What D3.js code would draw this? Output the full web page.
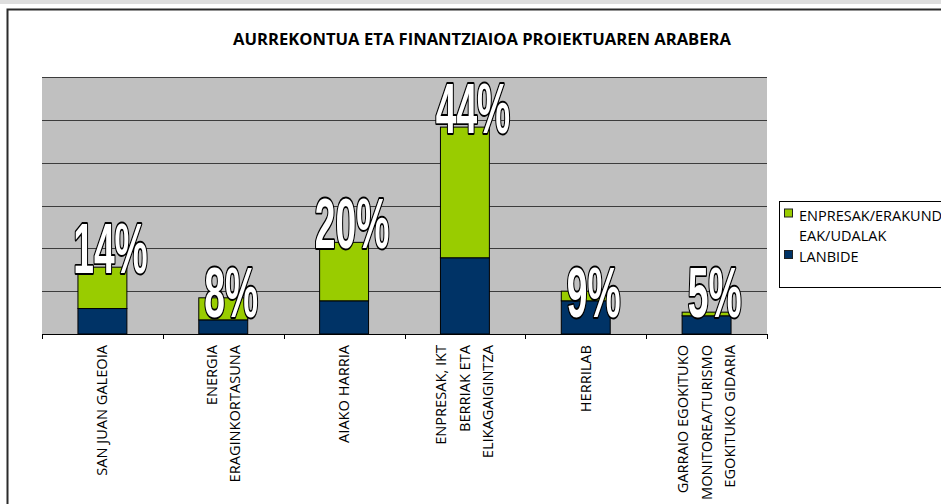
<!doctype html>
<html>
  <head>
    <script src="https://cdn.jsdelivr.net/npm/d3@7"></script>
    <style>
      body { margin: 0; background: #fff; }
      svg { display: block; }
    </style>
  </head>
  <body>
    <svg id="chart" width="941" height="504"></svg>

    <script>
      // projects (line breaks as they appear under the axis)
      var categories = [
        "SAN JUAN GALEOIA",
        "ENERGIA\nERAGINKORTASUNA",
        "AIAKO HARRIA",
        "ENPRESAK, IKT\nBERRIAK ETA\nELIKAGAIGINTZA",
        "HERRILAB",
        "GARRAIO EGOKITUKO\nMONITOREA/TURISMO\nEGOKITUKO GIDARIA"
      ];
      // budget, thousands of euros
      var lanbide = [119, 66, 155, 356, 155, 85];
      var enpresak = [193, 103, 273, 610, 45, 17];
      var seriesNames = ["LANBIDE", "ENPRESAK/ERAKUNDEAK/UDALAK"];
      var legendLines = [["ENPRESAK/ERAKUND", "EAK/UDALAK"], ["LANBIDE"]];
      var yTicks = [0, 200, 400, 600, 800, 1000, 1200];

      var colors = { "LANBIDE": "#003366", "ENPRESAK/ERAKUNDEAK/UDALAK": "#99cc00" };

      var svg = d3.select("#chart");

      // grey strip + frame of the embedded chart
      svg.append("rect").attr("x", 0).attr("y", 0).attr("width", 941).attr("height", 4).attr("fill", "#dedede");
      svg.append("path")
        .attr("d", "M7.5,504 V9.5 H945")
        .attr("fill", "none").attr("stroke", "#2b2b2b").attr("stroke-width", 2);

      svg.append("text")
        .attr("x", 482).attr("y", 45)
        .attr("text-anchor", "middle")
        .attr("font-family", "'Open Sans', sans-serif")
        .attr("font-weight", "bold")
        .attr("font-size", 16.6)
        .attr("fill", "#000")
        .text("AURREKONTUA ETA FINANTZIAIOA PROIEKTUAREN ARABERA");

      var pLeft = 42, pRight = 767, pTop = 77, pBottom = 334;

      var x = d3.scaleBand().domain(categories).range([pLeft, pRight]).padding(0);
      var y = d3.scaleLinear().domain([0, 1200]).range([pBottom, pTop]);

      // plot area
      svg.append("rect")
        .attr("x", pLeft).attr("y", pTop)
        .attr("width", pRight - pLeft).attr("height", pBottom - pTop)
        .attr("fill", "#c0c0c0");

      svg.append("g").selectAll("line")
        .data(yTicks.slice(1))
        .enter()
        .append("line")
        .attr("x1", pLeft).attr("x2", pRight)
        .attr("y1", d => Math.round(y(d)) + 0.5).attr("y2", d => Math.round(y(d)) + 0.5)
        .attr("stroke", "#3c3c3c").attr("stroke-width", 1.2);

      // stacked bars
      var rows = categories.map((c, i) => ({ cat: c, "LANBIDE": lanbide[i], "ENPRESAK/ERAKUNDEAK/UDALAK": enpresak[i] }));
      var stacked = d3.stack().keys(seriesNames)(rows);
      var barW = x.bandwidth() * 0.405;

      svg.append("g").selectAll("g")
        .data(stacked)
        .enter()
        .append("g")
        .attr("fill", d => colors[d.key])
        .selectAll("rect")
        .data(d => d)
        .enter()
        .append("rect")
        .attr("x", d => x(d.data.cat) + x.bandwidth() / 2 - barW / 2)
        .attr("y", d => y(d[1]))
        .attr("width", barW)
        .attr("height", d => y(d[0]) - y(d[1]))
        .attr("stroke", "#000")
        .attr("stroke-width", 1);

      // x axis
      var axis = d3.axisBottom(x).tickSize(0).tickFormat("");
      var ax = svg.append("g").attr("transform", "translate(0," + pBottom + ")").call(axis);
      ax.select(".domain").attr("stroke", "#000").attr("d", "M" + pLeft + ",0.5H" + pRight);
      ax.selectAll(".bound")
        .data(d3.range(categories.length + 1))
        .enter()
        .append("line")
        .attr("x1", i => Math.round(pLeft + i * x.step()) + 0.5)
        .attr("x2", i => Math.round(pLeft + i * x.step()) + 0.5)
        .attr("y1", 0).attr("y2", 5)
        .attr("stroke", "#000");

      var labels = svg.append("g").selectAll("g")
        .data(categories)
        .enter()
        .append("g")
        .attr("transform", d => "translate(" + (x(d) + x.bandwidth() / 2) + ",345) rotate(-90)");
      labels.append("text")
        .attr("text-anchor", "end")
        .attr("font-family", "'Open Sans', sans-serif")
        .attr("font-size", 14.6)
        .attr("fill", "#000")
        .each(function(d) {
          var lines = d.split("\n");
          var t = d3.select(this);
          lines.forEach((ln, i) => {
            t.append("tspan")
              .attr("x", 0)
              .attr("y", (i - (lines.length - 1) / 2) * 23.5 + 5)
              .text(ln);
          });
        });

      // percentage labels: small bars get their label pushed to the floor
      var totals = categories.map((c, i) => lanbide[i] + enpresak[i]);
      var sum = d3.sum(totals);
      svg.append("g").selectAll("g")
        .data(totals)
        .enter()
        .append("g")
        .attr("transform", (d, i) => {
          var base = (pBottom - y(d) < 50) ? pBottom - 17 : y(d) + 6;
          return "translate(" + (x(categories[i]) + x.bandwidth() / 2 + 8) + "," + base + ") scale(0.6,1.12)";
        })
        .append("text")
        .attr("text-anchor", "middle")
        .attr("font-family", "'Liberation Sans', Arial, sans-serif")
        .attr("font-weight", "bold")
        .attr("font-size", 62)
        .attr("fill", "#fff")
        .attr("stroke", "#000")
        .attr("stroke-width", 3.4)
        .attr("stroke-linejoin", "round")
        .attr("paint-order", "stroke")
        .text(d => Math.round(d / sum * 100) + "%");

      // legend
      var lg = svg.append("g");
      lg.append("rect")
        .attr("x", 779.5).attr("y", 201.5)
        .attr("width", 200).attr("height", 86)
        .attr("fill", "#fff").attr("stroke", "#000");
      var legendKeys = seriesNames.slice().reverse();
      var legendY = [209, 250.5];
      legendKeys.forEach((k, i) => {
        lg.append("rect")
          .attr("x", 784.5).attr("y", legendY[i])
          .attr("width", 8).attr("height", 8)
          .attr("fill", colors[k]).attr("stroke", "#222");
        legendLines[i].forEach((ln, j) => {
          lg.append("text")
            .attr("x", 799).attr("y", legendY[i] + 11.5 + j * 20)
            .attr("font-family", "'Open Sans', sans-serif")
            .attr("font-size", 14.5)
            .attr("fill", "#000")
            .text(ln);
        });
      });
    </script>
  </body>
</html>
